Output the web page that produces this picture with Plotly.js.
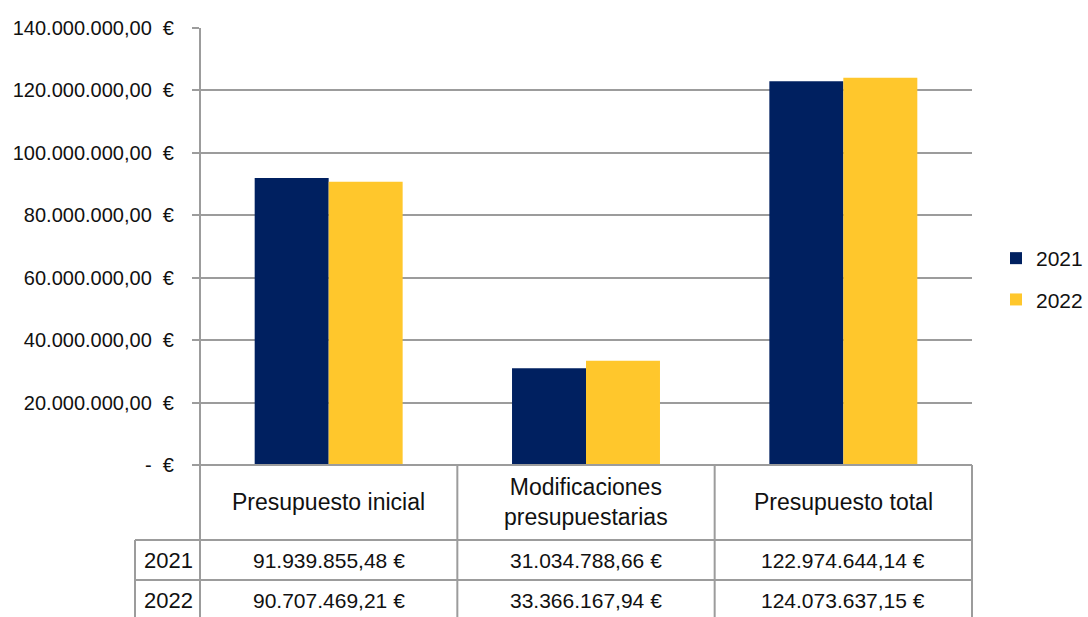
<!DOCTYPE html>
<html>
<head>
<meta charset="utf-8">
<script src="https://cdn.plot.ly/plotly-3.0.1.min.js"></script>
<style>html,body{margin:0;padding:0;background:#fff;}#chart{width:1088px;height:617px;}</style>
</head>
<body>
<div id="chart"></div>
<script>
// ---- data ----
const categories = ["Presupuesto inicial", "Modificaciones presupuestarias", "Presupuesto total"];
const categoryLabels = ["Presupuesto inicial", "Modificaciones<br>presupuestarias", "Presupuesto total"];
const seriesNames = ["2021", "2022"];
const values2021 = [91939855.48, 31034788.66, 122974644.14];
const values2022 = [90707469.21, 33366167.94, 124073637.15];
const tickValues = [0, 20000000, 40000000, 60000000, 80000000, 100000000, 120000000, 140000000];
const tickLabels = ["-  €", "20.000.000,00  €", "40.000.000,00  €", "60.000.000,00  €", "80.000.000,00  €", "100.000.000,00  €", "120.000.000,00  €", "140.000.000,00  €"];

const colors = ["#002060", "#FFC72C"];
const grid = "#9c9c9c";
const FONT = "Liberation Sans, Arial, sans-serif";

function fmtEuro(v) {
  const parts = v.toFixed(2).split(".");
  const intPart = parts[0].replace(/\B(?=(\d{3})+(?!\d))/g, ".");
  return intPart + "," + parts[1] + " €";
}

const allSeries = [values2021, values2022];
const traces = allSeries.map((vals, i) => ({
  type: "bar",
  name: seriesNames[i],
  legendgroup: "g" + i,
  x: categories,
  y: vals,
  marker: {color: colors[i], line: {width: 0}},
  hoverinfo: "skip"
}));

// table geometry in paper coords (plot area 200..972 x, 28..465 y)
const PW = 772, PH = 437;
const px = (X) => (X - 200) / PW;
const py = (Y) => (465 - Y) / PH;

const lineStyle = {color: grid, width: 2};
const shapes = [];
shapes.push({type: "line", xref: "paper", yref: "paper", x0: 0, x1: 0, y0: 1, y1: py(620), line: lineStyle});
shapes.push({type: "line", xref: "paper", yref: "paper", x0: 0, x1: 1, y0: 0, y1: 0, line: lineStyle});
[540, 580].forEach(Y => shapes.push({type: "line", xref: "paper", yref: "paper", x0: px(135), x1: 1, y0: py(Y), y1: py(Y), line: lineStyle}));
shapes.push({type: "line", xref: "paper", yref: "paper", x0: px(135), x1: px(135), y0: py(540), y1: py(620), line: lineStyle});
[1/3, 2/3, 1].forEach(f => shapes.push({type: "line", xref: "paper", yref: "paper", x0: f, x1: f, y0: 0, y1: py(620), line: lineStyle}));

const annotations = [];
categories.forEach((c, i) => {
  annotations.push({xref: "x", yref: "paper", x: c, y: py(502), text: categoryLabels[i], showarrow: false,
    font: {family: FONT, size: 23, color: "#111"}, xanchor: "center", yanchor: "middle"});
});
const rowY = [560, 600];
allSeries.forEach((vals, s) => {
  annotations.push({xref: "paper", yref: "paper", x: px(168), y: py(rowY[s]), text: seriesNames[s], showarrow: false,
    font: {family: FONT, size: 22, color: "#111"}, xanchor: "center", yanchor: "middle"});
  vals.forEach((v, i) => {
    annotations.push({xref: "x", yref: "paper", x: categories[i], y: py(rowY[s]), text: fmtEuro(v), showarrow: false,
      font: {family: FONT, size: 21, color: "#111"}, xanchor: "center", yanchor: "middle"});
  });
});

const layout = {
  width: 1088, height: 617,
  margin: {l: 200, r: 116, t: 28, b: 152, pad: 0, autoexpand: false},
  paper_bgcolor: "#fff", plot_bgcolor: "#fff",
  barmode: "group",
  bargap: 0.425, bargroupgap: 0,
  showlegend: true,
  legend: {x: px(996), y: py(279), xanchor: "left", yanchor: "middle", xref: "paper", yref: "paper",
    font: {family: FONT, size: 21, color: "#111"}, bgcolor: "rgba(0,0,0,0)", itemwidth: 30, tracegroupgap: 11,
    borderwidth: 0},
  xaxis: {type: "category", range: [-0.5, 2.5], showticklabels: false, showgrid: false, zeroline: false, showline: false, ticks: "", fixedrange: true},
  yaxis: {range: [0, 140000000], tickvals: tickValues, ticktext: tickLabels, showgrid: true, gridcolor: grid, gridwidth: 2,
    zeroline: false, showline: false, ticks: "outside", ticklen: 7, tickwidth: 2, tickcolor: grid,
    ticklabelstandoff: 14,
    tickfont: {family: FONT, size: 20, color: "#111"}, fixedrange: true},
  shapes: shapes,
  annotations: annotations,
  font: {family: FONT}
};

Plotly.newPlot("chart", traces, layout, {displayModeBar: false, staticPlot: true});
</script>
</body>
</html>
